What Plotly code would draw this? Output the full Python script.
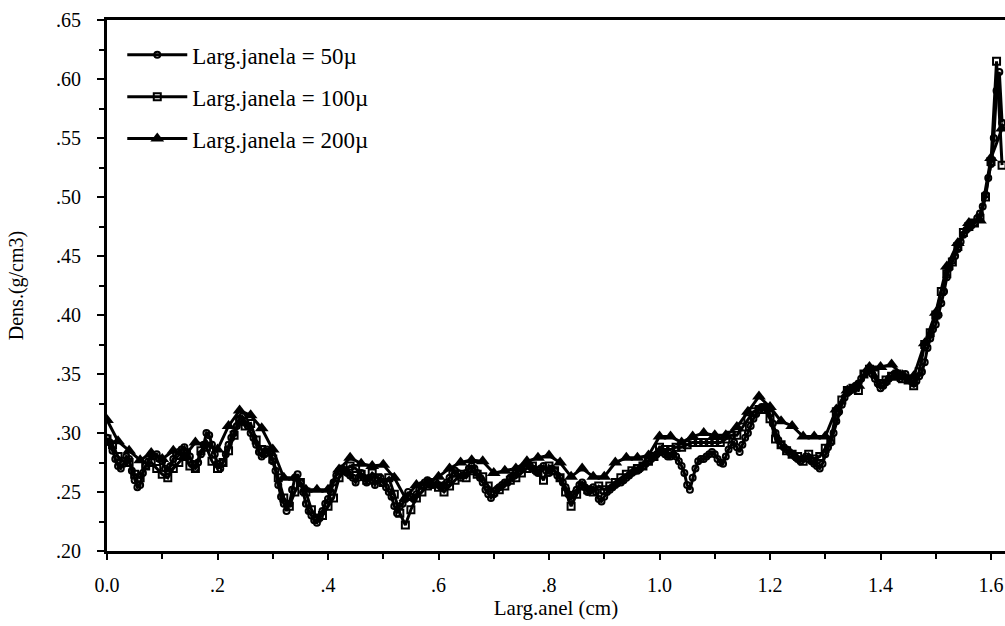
import plotly.graph_objects as go

# ---------------- data ----------------
# 50 micron window (step 0.005 cm)
x50 = [round(i * 0.005, 3) for i in range(325)]
y50 = [
    .296, .292, .285, .278, .272, .270, .274, .280, .278, .268, .260, .254, .256, .266, .272, .276, .282, .280, .282, .278,
    .276, .270, .268, .272, .278, .282, .284, .286, .288, .284, .280, .274, .270, .275, .282, .290, .300, .298, .290, .282,
    .274, .270, .275, .282, .290, .296, .300, .306, .312, .314, .310, .306, .300, .296, .290, .284, .280, .282, .286, .284,
    .276, .268, .256, .246, .240, .234, .240, .252, .262, .265, .258, .250, .240, .234, .230, .226, .224, .228, .234, .240,
    .244, .250, .258, .264, .268, .270, .268, .266, .264, .262, .258, .262, .266, .262, .258, .262, .260, .256, .260, .262,
    .258, .254, .250, .246, .238, .232, .238, .240, .244, .250, .246, .244, .248, .252, .256, .258, .260, .256, .256, .258,
    .256, .254, .256, .258, .262, .266, .268, .266, .262, .264, .266, .270, .272, .270, .266, .262, .258, .252, .248, .245,
    .248, .252, .254, .256, .258, .258, .262, .264, .266, .268, .270, .272, .274, .272, .270, .268, .266, .270, .272, .268,
    .266, .270, .268, .264, .262, .258, .254, .248, .244, .248, .252, .256, .258, .254, .250, .252, .254, .250, .244, .242,
    .246, .250, .252, .254, .256, .258, .258, .260, .262, .264, .266, .268, .268, .270, .272, .274, .276, .278, .280, .282,
    .284, .284, .282, .280, .280, .282, .280, .276, .272, .266, .256, .252, .262, .270, .276, .278, .278, .280, .282, .284,
    .282, .278, .275, .274, .280, .286, .290, .292, .288, .284, .290, .296, .300, .306, .312, .316, .320, .322, .322, .320,
    .316, .308, .300, .294, .290, .288, .286, .284, .282, .280, .278, .276, .278, .280, .278, .276, .274, .272, .270, .274,
    .282, .288, .292, .300, .310, .318, .324, .330, .334, .336, .338, .340, .342, .346, .350, .352, .354, .350, .346, .342,
    .338, .340, .343, .346, .348, .350, .348, .346, .348, .350, .346, .344, .342, .344, .348, .352, .360, .372, .380, .388,
    .392, .400, .410, .420, .432, .440, .446, .450, .456, .462, .468, .472, .474, .476, .478, .482, .486, .492, .502, .516,
    .528, .550, .590, .606, .563,
]

# 100 micron window (step 0.01 cm)
x100 = [round(i * 0.01, 2) for i in range(163)]
y100 = [
    .295, .290, .280, .276, .275, .265, .262, .272, .275, .270,
    .265, .262, .270, .275, .280, .272, .270, .285, .288, .276,
    .270, .275, .285, .298, .310, .306, .308, .294, .286, .284,
    .278, .262, .245, .238, .250, .258, .250, .235, .228, .230,
    .238, .245, .262, .268, .272, .270, .265, .260, .266, .262,
    .258, .262, .248, .232, .222, .235, .245, .250, .255, .258,
    .254, .250, .255, .260, .265, .262, .268, .265, .263, .255,
    .250, .252, .255, .260, .262, .266, .270, .272, .268, .260,
    .272, .268, .262, .250, .238, .248, .255, .252, .250, .255,
    .252, .255, .258, .262, .265, .268, .270, .272, .276, .280,
    .288, .286, .286, .288, .288, .290, .292, .292, .292, .292,
    .292, .292, .295, .298, .298, .305, .312, .318, .320, .320,
    .312, .295, .290, .285, .282, .280, .276, .282, .278, .280,
    .287, .294, .318, .328, .336, .338, .336, .350, .354, .350,
    .342, .345, .348, .350, .346, .345, .340, .352, .375, .385,
    .400, .420, .435, .445, .458, .470, .475, .478, .482, .500,
    .530, .615, .527,
]

# 200 micron window (step 0.02 cm)
x200 = [round(i * 0.02, 2) for i in range(82)]
y200 = [
    .311, .293, .285, .277, .283, .278, .285, .280, .292, .290,
    .286, .306, .319, .315, .304, .286, .262, .262, .252, .252,
    .252, .269, .279, .274, .272, .273, .262, .245, .256, .258,
    .263, .270, .275, .277, .276, .266, .268, .270, .276, .279,
    .281, .275, .263, .270, .263, .263, .275, .279, .279, .281,
    .297, .297, .292, .297, .300, .298, .298, .305, .318, .331,
    .322, .310, .306, .297, .297, .297, .320, .336, .340, .356,
    .356, .358, .349, .348, .376, .402, .441, .461, .478, .480,
    .533, .558,
]

series_names = ["Larg.janela = 50µ", "Larg.janela = 100µ", "Larg.janela = 200µ"]

y_tickvals = [.20, .25, .30, .35, .40, .45, .50, .55, .60, .65]
y_ticktext = [".20", ".25", ".30", ".35", ".40", ".45", ".50", ".55", ".60", ".65"]
x_tickvals = [0.0, 0.2, 0.4, 0.6, 0.8, 1.0, 1.2, 1.4, 1.6]
x_ticktext = ["0.0", ".2", ".4", ".6", ".8", "1.0", "1.2", "1.4", "1.6"]

FONT = "Liberation Serif, Times New Roman, serif"

fig = go.Figure()
fig.add_trace(go.Scatter(
    x=x50, y=y50, mode="lines+markers", name=series_names[0], legendgroup="a",
    line=dict(color="black", width=3),
    marker=dict(symbol="circle-open", size=6, color="black", line=dict(width=2, color="black")),
))
fig.add_trace(go.Scatter(
    x=x100, y=y100, mode="lines+markers", name=series_names[1], legendgroup="b",
    line=dict(color="black", width=3),
    marker=dict(symbol="square-open", size=7, color="black", line=dict(width=2, color="black")),
))
fig.add_trace(go.Scatter(
    x=x200, y=y200, mode="lines+markers", name=series_names[2], legendgroup="c",
    line=dict(color="black", width=3),
    marker=dict(symbol="triangle-up", size=12, color="black", line=dict(width=0)),
))

fig.update_layout(
    width=1005, height=626,
    margin=dict(l=107, r=0, t=20, b=75),
    paper_bgcolor="white", plot_bgcolor="white",
    font=dict(family=FONT, size=20, color="black"),
    showlegend=True,
    legend=dict(
        x=0.017, y=0.975, xanchor="left", yanchor="top",
        bgcolor="rgba(0,0,0,0)", borderwidth=0,
        font=dict(family=FONT, size=23, color="black"),
        tracegroupgap=9, itemwidth=60,
    ),
    xaxis=dict(
        range=[0, 1.6253], tickvals=x_tickvals, ticktext=x_ticktext,
        showline=True, linecolor="black", linewidth=2.5, mirror=True,
        ticks="outside", ticklen=6, tickwidth=2, tickcolor="black",
        minor=dict(ticks="outside", ticklen=5, tickwidth=2, tickcolor="black", dtick=0.1),
        showgrid=False, zeroline=False, automargin=False,
        ticklabelstandoff=8,
        title=dict(text="Larg.anel (cm)", font=dict(family=FONT, size=21), standoff=2),
        tickfont=dict(family=FONT, size=20),
    ),
    yaxis=dict(
        range=[0.20, 0.65], tickvals=y_tickvals, ticktext=y_ticktext,
        showline=True, linecolor="black", linewidth=3, mirror=False,
        ticks="outside", ticklen=7, tickwidth=2, tickcolor="black",
        minor=dict(ticks="outside", ticklen=5, tickwidth=2, tickcolor="black", dtick=0.025, tick0=0.2),
        showgrid=False, zeroline=False, automargin=False,
        ticklabelstandoff=12,
        title=dict(text="Dens.(g/cm3)", font=dict(family=FONT, size=20), standoff=28),
        tickfont=dict(family=FONT, size=20),
    ),
)

fig.write_html(
    "out.html",
    config={"displayModeBar": False},
    post_script="document.body.style.margin='0';document.body.style.overflow='hidden';",
)
